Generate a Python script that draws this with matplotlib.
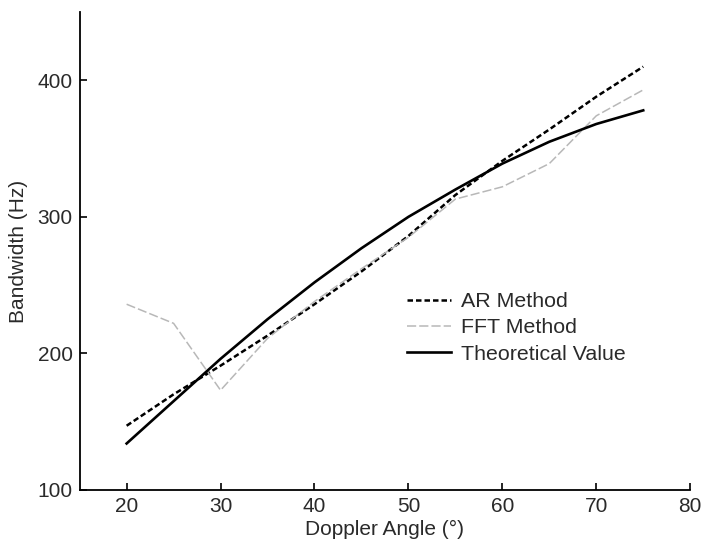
import matplotlib
matplotlib.use("Agg")
import matplotlib.pyplot as plt

angles = [20, 25, 30, 35, 40, 45, 50, 55, 60, 65, 70, 75]
ar_method = [147, 170, 191, 213, 236, 260, 286, 316, 341, 364, 388, 410]
fft_method = [236, 222, 173, 211, 238, 262, 285, 313, 322, 339, 374, 393]
theoretical = [134, 165, 196, 225, 252, 277, 300, 320, 339, 355, 368, 378]

xticks = [20, 30, 40, 50, 60, 70, 80]
yticks = [100, 200, 300, 400]

plt.rcParams['font.family'] = ['Liberation Sans', 'DejaVu Sans']
txt = '#2a2a2a'

fig = plt.figure(figsize=(7.05, 5.48), dpi=100)
ax = fig.add_axes([0.113, 0.106, 0.866, 0.872])

ax.plot(angles, ar_method, color='black', lw=1.8, ls=(0, (2.2, 1.2)), label='AR Method')
ax.plot(angles, fft_method, color='#b8b8b8', lw=1.1, ls=(0, (6, 2)), label='FFT Method')
ax.plot(angles, theoretical, color='black', lw=1.9, ls='-', label='Theoretical Value')

ax.set_xlim(15, 80)
ax.set_ylim(100, 450)
ax.set_xticks(xticks)
ax.set_yticks(yticks)
ax.spines['top'].set_visible(False)
ax.spines['right'].set_visible(False)
for s in ('left', 'bottom'):
    ax.spines[s].set_linewidth(1.3)
ax.tick_params(direction='in', length=5, width=1.2, labelsize=15, labelcolor=txt, pad=5)
ax.set_xlabel('Doppler Angle (°)', fontsize=15, color=txt, labelpad=3)
ax.set_ylabel('Bandwidth (Hz)', fontsize=15, color=txt, labelpad=7)

leg = ax.legend(loc='upper left', bbox_to_anchor=(0.522, 0.432), frameon=False,
                fontsize=15.4, handlelength=2.05, handletextpad=0.5, labelspacing=0.34,
                borderaxespad=0)
for t in leg.get_texts():
    t.set_color(txt)

fig.savefig('out.png', dpi=100)
